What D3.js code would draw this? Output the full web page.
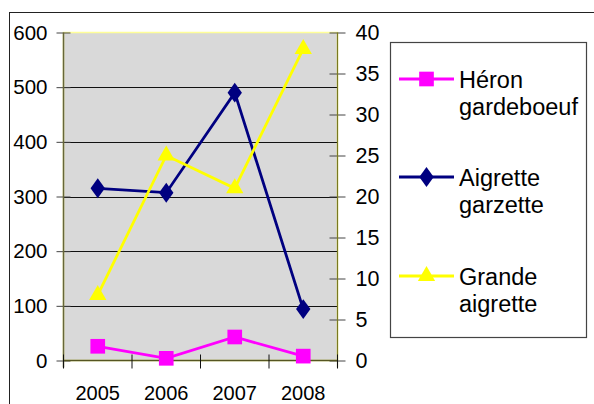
<!DOCTYPE html>
<html><head><meta charset="utf-8">
<script src="https://cdn.jsdelivr.net/npm/d3@7"></script>
<style>body{margin:0;background:#fff}svg{display:block}text{font-family:"Liberation Sans",Arial,sans-serif}</style>
</head><body><svg id="c" width="594" height="404"></svg>
<script>
const years = ["2005","2006","2007","2008"];
const heron = [26, 4, 43, 8];
const aigretteGarzette = [315, 307, 490, 94];
const grandeAigrette = [8, 25, 21, 38];
const leftTicks = [0,100,200,300,400,500,600];
const rightTicks = [0,5,10,15,20,25,30,35,40];
const seriesNames = [["Héron","gardeboeuf"],["Aigrette","garzette"],["Grande","aigrette"]];

const svg = d3.select("#c");
const L=63.5, R=337.5, T=32.5, B=360.5;
const x = d3.scaleBand().domain(years).range([L,R]).padding(0);
const yL = d3.scaleLinear().domain([0,600]).range([B,T]);
const yR = d3.scaleLinear().domain([0,40]).range([B,T]);

// outer border
svg.append("rect").attr("x",9.5).attr("y",12.5).attr("width",600).attr("height",420)
  .attr("fill","#fff").attr("stroke","#222").attr("stroke-width",1);

// plot area
svg.append("rect").attr("x",L).attr("y",T).attr("width",R-L).attr("height",B-T)
  .attr("fill","#d9d9d9").attr("stroke","#ffff99").attr("stroke-width",1.5);

// gridlines
svg.append("g").selectAll("line").data(leftTicks.slice(1,-1)).join("line")
  .attr("x1",L).attr("x2",R).attr("y1",d=>Math.round(yL(d))+0.5).attr("y2",d=>Math.round(yL(d))+0.5)
  .attr("stroke","#111").attr("stroke-width",1);

// left axis
const gl = svg.append("g").attr("transform",`translate(${L},0)`)
  .call(d3.axisLeft(yL).tickValues(leftTicks).tickSize(7).tickPadding(9).tickFormat(d3.format("d")));
gl.select(".domain").remove();
gl.selectAll(".tick line").attr("x2",7).attr("x1",-7).attr("stroke","#444");
gl.selectAll("text").attr("font-size",20.5).attr("fill","#000");
svg.append("line").attr("x1",L).attr("x2",L).attr("y1",T).attr("y2",B+7).attr("stroke","#66663a").attr("stroke-width",1.5);

// right axis
const gr = svg.append("g").attr("transform",`translate(${R},0)`)
  .call(d3.axisRight(yR).tickValues(rightTicks).tickSize(8).tickPadding(10));
gr.select(".domain").remove();
gr.selectAll(".tick line").attr("x1",-8).attr("x2",8).attr("stroke","#444");
gr.selectAll("text").attr("font-size",21.5).attr("fill","#000");
svg.append("line").attr("x1",R).attr("x2",R).attr("y1",T).attr("y2",B+7).attr("stroke","#7a7a20").attr("stroke-width",1.2);

// x axis
svg.append("line").attr("x1",L).attr("x2",R).attr("y1",B).attr("y2",B).attr("stroke","#555522").attr("stroke-width",1.5);
const tickXs = years.map(y=>x(y)).concat([R]);
svg.append("g").selectAll("line").data(tickXs).join("line")
  .attr("x1",d=>d).attr("x2",d=>d).attr("y1",B-6).attr("y2",B+8).attr("stroke","#111");
svg.append("g").selectAll("text").data(years).join("text")
  .attr("x",d=>x(d)+x.bandwidth()/2).attr("y",B+39).attr("text-anchor","middle")
  .attr("font-size",20).text(d=>d);

const cx = d=>x(d)+x.bandwidth()/2;
function series(vals, scale, color){
  svg.append("path").datum(vals)
    .attr("d", d3.line().x((v,i)=>cx(years[i])).y(v=>scale(v)))
    .attr("fill","none").attr("stroke",color).attr("stroke-width",2.8);
}
series(aigretteGarzette, yL, "#000080");
series(grandeAigrette, yR, "#ffff00");
series(heron, yL, "#ff00ff");

const sq = d3.symbol().type(d3.symbolSquare).size(215);
const di = d3.symbol().type(d3.symbolDiamond).size(115);
const tr = d3.symbol().type(d3.symbolTriangle).size(130);
svg.append("g").selectAll("path").data(aigretteGarzette).join("path")
  .attr("transform",(v,i)=>`translate(${cx(years[i])},${yL(v)}) scale(1.25,1)`).attr("d",di).attr("fill","#000080");
svg.append("g").selectAll("path").data(grandeAigrette).join("path")
  .attr("transform",(v,i)=>`translate(${cx(years[i])},${yR(v)})`).attr("d",tr).attr("fill","#ffff00");
svg.append("g").selectAll("path").data(heron).join("path")
  .attr("transform",(v,i)=>`translate(${cx(years[i])},${yL(v)})`).attr("d",sq).attr("fill","#ff00ff");

// legend
svg.append("rect").attr("x",390.5).attr("y",42.5).attr("width",196).attr("height",295)
  .attr("fill","#fff").attr("stroke","#444").attr("stroke-width",1.2);
const colors = ["#ff00ff","#000080","#ffff00"];
const syms = [sq, di, tr];
const ly = [79, 177, 276];
seriesNames.forEach((nm,i)=>{
  const g = svg.append("g");
  g.append("line").attr("x1",399).attr("x2",454).attr("y1",ly[i]).attr("y2",ly[i]).attr("stroke",colors[i]).attr("stroke-width",2.8);
  g.append("path").attr("d",syms[i]).attr("fill",colors[i])
    .attr("transform",`translate(426.5,${ly[i]})${i===1?" scale(1.25,1)":""}`);
  g.append("text").attr("x",459).attr("y",ly[i]+9).attr("font-size",23.5).text(nm[0]);
  g.append("text").attr("x",459).attr("y",ly[i]+36).attr("font-size",23.5).text(nm[1]);
});
</script></body></html>
